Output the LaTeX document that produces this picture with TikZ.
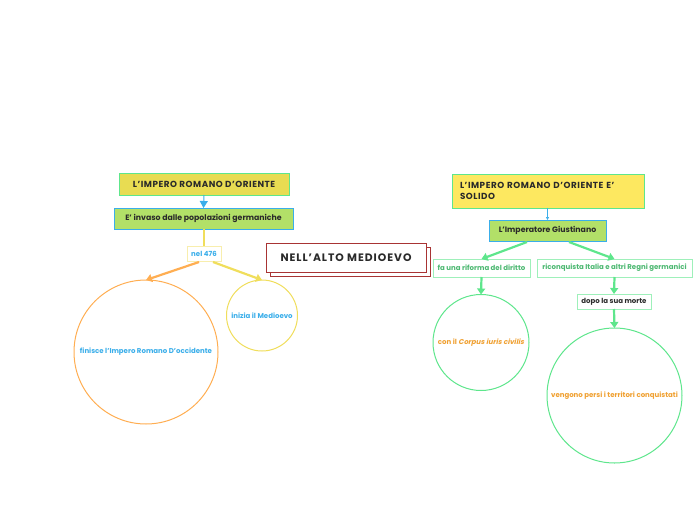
\documentclass[tikz,border=0pt]{standalone}
\usepackage{fontspec}
\setmainfont{Poppins}
\newfontfamily\spaced{Poppins}[LetterSpace=6]
\newfontfamily\wide{Poppins}[LetterSpace=9]
\newfontfamily\slfont{Poppins}[FakeSlant=0.22]
\usetikzlibrary{arrows.meta}
\definecolor{ylwA}{HTML}{E8DC52}
\definecolor{ylwB}{HTML}{FDE860}
\definecolor{grnF}{HTML}{B2E068}
\definecolor{grnL}{HTML}{5EE68C}
\definecolor{bluL}{HTML}{3AAEEA}
\definecolor{orgL}{HTML}{FFAE52}
\definecolor{ylwL}{HTML}{F0DE5C}
\definecolor{redL}{HTML}{A83434}
\definecolor{txtD}{HTML}{2A2A2A}
\definecolor{txtO}{HTML}{F0A030}
\tikzset{
  x=1pt,y=-1pt,
  every node/.style={inner sep=0pt,outer sep=0pt},
  titlebox/.style={draw=grnL,line width=1pt,text=txtD,font=\spaced\bfseries\fontsize{8.8}{11}\selectfont,anchor=north west},
  subbox/.style={fill=grnF,draw=bluL,line width=0.8pt,text=txtD,font=\bfseries\fontsize{7.8}{9}\selectfont,anchor=north west},
  leafbox/.style={fill=white,draw=grnL!60,line width=0.8pt,font=\bfseries\fontsize{7}{8}\selectfont,anchor=north west},
  bubble/.style={circle,draw,line width=1pt,fill=white,font=\bfseries\fontsize{7}{8}\selectfont},
  arr/.style={line width=2.2pt,-{Triangle[width=8pt,length=6pt]}},
}
\begin{document}
\begin{tikzpicture}
\useasboundingbox (0,0) rectangle (697,520);
% left branch
\node[titlebox,fill=ylwA,minimum width=170,minimum height=22] (t1) at (119,173) {L’IMPERO ROMANO D’ORIENTE};
\node[subbox,minimum width=179,minimum height=21] (s1) at (114,208) {E’ invaso dalle popolazioni germaniche};
\draw[bluL,line width=1pt,-{Triangle[width=8pt,length=7pt]}] (t1.south) -- (s1.north);
\node[leafbox,draw=ylwL!50,text=bluL,minimum width=34,minimum height=15] (n476) at (187,246) {nel 476};
\draw[ylwL,line width=2pt] (204,229) -- (n476.north);
\node[bubble,draw=orgL,text=bluL,minimum size=144] (c1) at (146,352) {finisce l’Impero Romano D’occidente};
\node[bubble,draw=ylwL,text=bluL,minimum size=71] (c2) at (262,315.5) {inizia il Medioevo};
\draw[arr,orgL] (199,262) -- (c1.north);
\draw[arr,ylwL] (213,262) -- (c2.north);
% centre title
\draw[redL,line width=1pt,fill=white] (270,247) rectangle (430,276);
\node[draw=redL,line width=1pt,fill=white,minimum width=160,minimum height=29,anchor=north west,text=txtD,font=\wide\bfseries\fontsize{10.8}{12}\selectfont] (main) at (266,243) {NELL’ALTO MEDIOEVO};
% right branch
\node[titlebox,fill=ylwB,minimum width=192,minimum height=34,text width=176,align=left,inner xsep=8pt] (t2) at (452,174) {L’IMPERO ROMANO D’ORIENTE E’\\SOLIDO};
\node[subbox,minimum width=117,minimum height=21] (s2) at (489,220) {L’Imperatore Giustinano};
\draw[bluL,line width=0.6pt,-{Triangle[width=3pt,length=3pt]}] (t2.south -| s2.north) -- (s2.north);
\node[leafbox,text=grnL!80!black,minimum width=97,minimum height=18] (r1) at (433,259) {fa una riforma del diritto};
\node[leafbox,text=grnL!80!black,minimum width=155,minimum height=18] (r2) at (537,259) {riconquista Italia e altri Regni germanici};
\draw[arr,grnL] (527,242) -- (r1.north);
\draw[arr,grnL] (569,242) -- (r2.north);
\node[bubble,draw=grnL,text=txtO,minimum size=96] (c3) at (481,342.5) {con il {\slfont\bfseries Corpus iuris civilis}};
\draw[arr,grnL] (r1.south) -- (c3.north);
\node[leafbox,text=txtD,minimum width=74,minimum height=15] (d1) at (577,294) {dopo la sua morte};
\draw[arr,grnL] (r2.south) -- (d1.north);
\node[bubble,draw=grnL,text=txtO,minimum size=135] (c4) at (614.5,395.5) {vengono persi i territori conquistati};
\draw[arr,grnL] (d1.south) -- (c4.north);
\end{tikzpicture}
\end{document}
